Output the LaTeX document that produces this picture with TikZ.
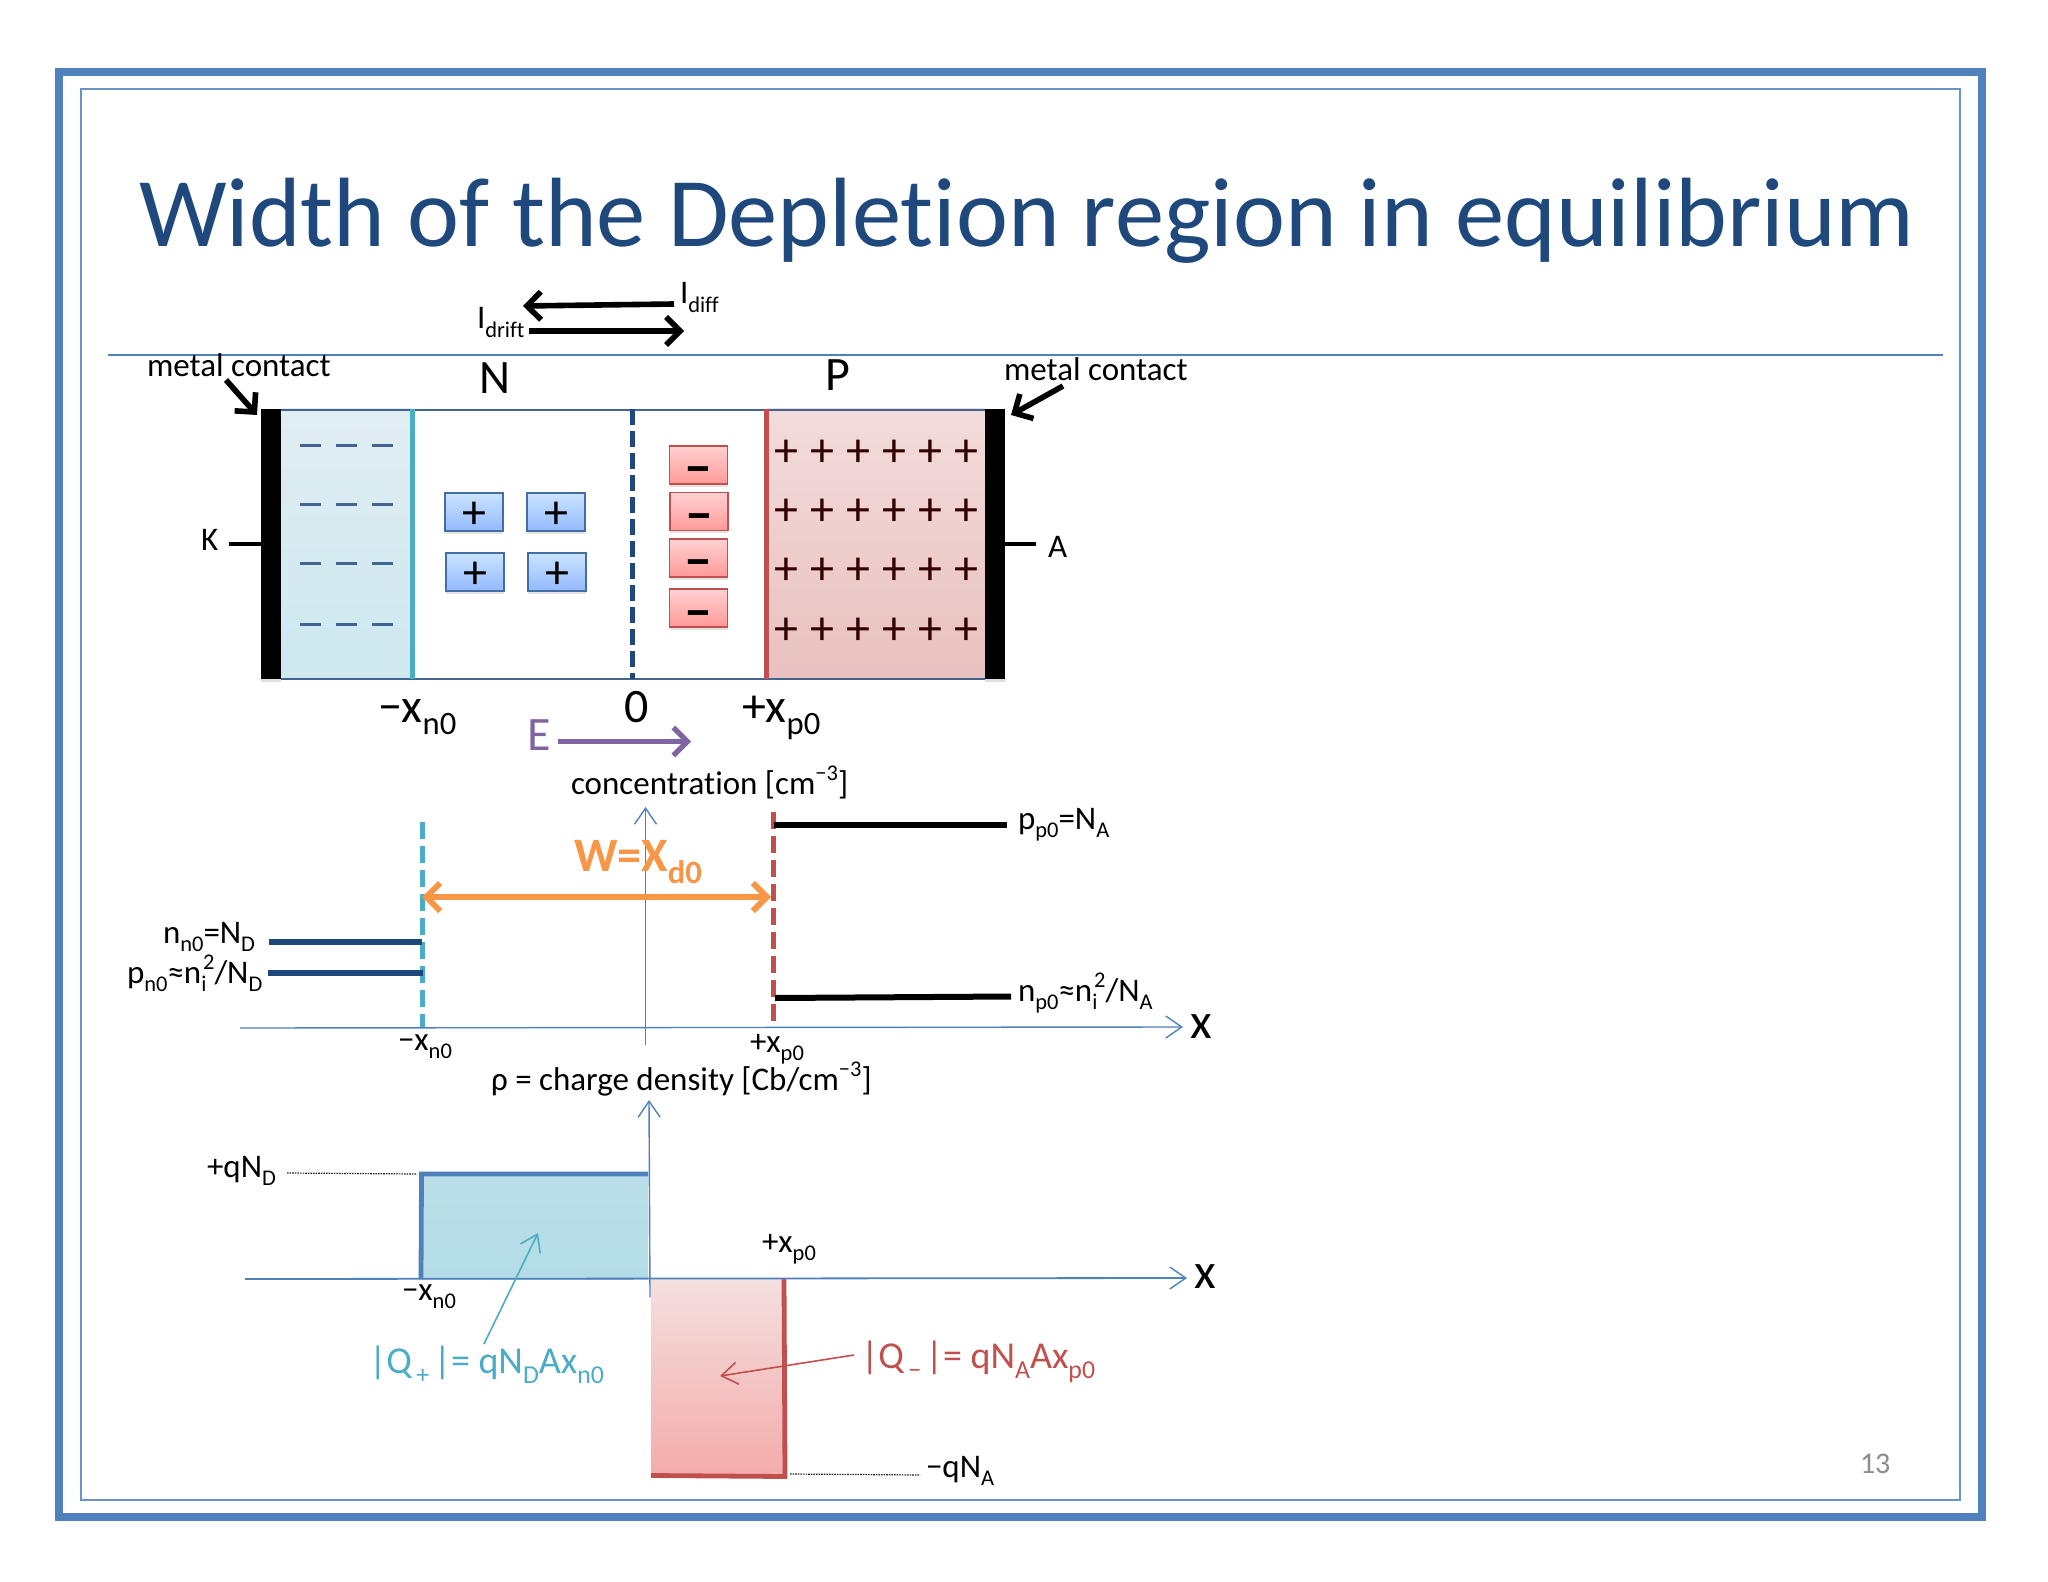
\documentclass[tikz,border=0pt]{standalone}
\usepackage{fontspec}
\usepackage{graphicx}
\setmainfont[Ligatures=CommonOff]{Carlito}
\usetikzlibrary{arrows.meta,shadows,calc}
\definecolor{framecol}{HTML}{4F81BD}
\definecolor{titlecol}{HTML}{1F497D}
\definecolor{tealc}{HTML}{4BACC6}
\definecolor{redc}{HTML}{C0504D}
\definecolor{orangec}{HTML}{F79646}
\definecolor{purplec}{HTML}{8064A2}
\definecolor{navyc}{HTML}{1F497D}
\newcommand\fs[1]{\fontsize{#1}{#1}\selectfont}
\newcommand\dn[1]{\raisebox{-.27em}{\scalebox{.68}{#1}}}
\newcommand\upp[1]{\raisebox{.42em}{\scalebox{.68}{#1}}}
\newcommand\boxplus{\raisebox{-8.5pt}[0pt][0pt]{+}}
\newcommand\boxminus{\raisebox{-10.5pt}[0pt][0pt]{−}}
\tikzset{
  lab/.style={anchor=base west,inner sep=0pt,outer sep=0pt,text=black},
  softshadow/.style={drop shadow={shadow xshift=0pt,shadow yshift=-1.5pt,opacity=.22}},
  plusbox/.style={draw=framecol!85!black,line width=.8pt,top color=blue!12!white!90!cyan,bottom color=blue!32!white!85!cyan,minimum width=29pt,minimum height=19pt,inner sep=0pt,softshadow,font=\fs{24}},
  minusbox/.style={draw=redc,line width=.8pt,top color=red!18!white,bottom color=red!40!white,minimum width=29pt,minimum height=19pt,inner sep=0pt,softshadow,font=\bfseries\fs{26}},
  pmark/.style={inner sep=0pt,font=\fs{24},text=black!80!red},
  thickarrow/.style={line width=2.8pt,-{Straight Barb[length=7pt,width=14pt,line width=2.8pt]}},
  thinaxis/.style={draw=framecol,line width=.7pt,-{Straight Barb[length=8pt,width=11pt,line width=.7pt]}},
  dotline/.style={draw=black!85,line width=.6pt,dash pattern=on .8pt off .5pt},
  level/.style={line width=3pt},
}
\begin{document}
\begin{tikzpicture}[x=0.5pt,y=-0.5pt]
\useasboundingbox (0,0) rectangle (2048,1582);
\fill[white] (0,0) rectangle (2048,1582);
% frames
\draw[framecol,line width=4pt] (59,72) rectangle (1982,1517);
\draw[framecol!85!white,line width=.6pt] (81,89) rectangle (1960,1500);
\draw[framecol,line width=.7pt] (108,355) -- (1943,355);
\node[lab,text=titlecol] (title) at (139,247) {\fs{49.25}Width of the Depletion region in equilibrium};
\node[lab,text=black!45] (pagenum) at (1860,1473) {\fs{15}13};

% device
\shade[top color=cyan!5!blue!2!white!90!teal,bottom color=tealc!28!white] (281,409) rectangle (411,679);
\shade[top color=redc!20!white,bottom color=redc!36!white] (766,409) rectangle (985,679);
\draw[navyc!85!white,line width=.9pt] (281,410) -- (985,410) (281,679) -- (985,679);
\draw[tealc,line width=2.5pt] (412,409) -- (412,679);
\draw[navyc,line width=2.5pt,dash pattern=on 8pt off 3pt] (632.5,409) -- (632.5,679);
\draw[redc,line width=2.5pt] (766.5,409) -- (766.5,679);
\fill[black,drop shadow={shadow xshift=0pt,shadow yshift=-1.5pt,opacity=.25}] (261,409) rectangle (281,679);
\fill[black,drop shadow={shadow xshift=0pt,shadow yshift=-1.5pt,opacity=.25}] (985,409) rectangle (1005,679);
\foreach \yy in {446,505,564,624}{
  \foreach \xx in {300,336,372}{
    \draw[navyc!85!white,line width=1.5pt] (\xx,\yy) -- ++(21,0);
  }
}
\foreach \yy [count=\r] in {453,512,571,631}{
  \foreach \xx [count=\c] in {786,822,858,894,930,966}{
    \node[pmark] (pl\r\c) at (\xx,\yy) {+};
  }
}
\node[plusbox] (pb1) at (474,512) {\boxplus};
\node[plusbox] (pb2) at (556,512) {\boxplus};
\node[plusbox] (pb3) at (475,572) {\boxplus};
\node[plusbox] (pb4) at (557,572) {\boxplus};
\node[minusbox] (mb1) at (698.5,465) {\boxminus};
\node[minusbox] (mb2) at (699,511.5) {\boxminus};
\node[minusbox] (mb3) at (698.5,558) {\boxminus};
\node[minusbox] (mb4) at (698.5,608) {\boxminus};

% contacts and labels
\node[lab] (mcl) at (147,377) {\fs{16.5}metal contact};
\node[lab] (mcr) at (1004,381) {\fs{16.5}metal contact};
\coordinate (mclS) at (226,380); \coordinate (mclE) at (257,415);
\coordinate (mcrS) at (1063,386); \coordinate (mcrE) at (1011,415);
\draw[thickarrow] (mclS) -- (mclE);
\draw[thickarrow] (mcrS) -- (mcrE);
\node[lab] (K) at (201,551) {\fs{16.5}K};
\node[lab] (A) at (1048,558) {\fs{16.5}A};
\coordinate (Kc) at (261,544); \coordinate (Ks) at (229,544);
\coordinate (Ac) at (1005,544); \coordinate (As) at (1036,544);
\draw[line width=2.2pt] (Ks) -- (Kc);
\draw[line width=2.2pt] (Ac) -- (As);
\node[lab] (N) at (479,394) {\fs{24}N};
\node[lab] (P) at (825,391) {\fs{24}P};
\node[lab] (mxn) at (378,722) {\fs{24}−x\dn{n0}};
\node[lab] (zero) at (624,722) {\fs{24}0};
\node[lab] (pxp) at (742,722) {\fs{24}+x\dn{p0}};
\node[lab,text=purplec] (E) at (527,750) {\fs{24}E};
\coordinate (Es) at (558,741.5); \coordinate (Ee) at (691,741.5);
\draw[purplec,line width=2.6pt,-{Straight Barb[length=7pt,width=14pt,line width=2.6pt]}] (Es) -- (Ee);

% currents
\node[lab] (Idrift) at (477,329) {\fs{16.5}I\dn{drift}};
\node[lab] (Idiff) at (680,304) {\fs{16.5}I\dn{diff}};
\coordinate (dfS) at (674,304); \coordinate (dfE) at (523,306);
\coordinate (drS) at (529,331); \coordinate (drE) at (684,331);
\draw[thickarrow] (dfS) -- (dfE);
\draw[thickarrow] (drS) -- (drE);

% concentration plot
\node[lab] (conc) at (571,794) {\fs{16.5}concentration [cm\upp{−3}]};
\coordinate (ax1b) at (645.5,1045); \coordinate (ax1t) at (645.5,807);
\coordinate (ax2l) at (240,1028); \coordinate (ax2r) at (1183,1027);
\draw[tealc,line width=2.5pt,dash pattern=on 8.5pt off 3.5pt] (422,822) -- (422,1028);
\draw[redc,line width=2.5pt,dash pattern=on 8.5pt off 3.5pt] (773,812) -- (773,1026);
\draw[thinaxis] (ax1b) -- (ax1t);
\draw[thinaxis] (ax2l) -- (ax2r);
\node[lab] (x1) at (1190,1038) {\fs{25}x};
\node[lab,text=orangec] (W) at (574,871) {\fs{24}\bfseries W=X\dn{d0}};
\coordinate (wL) at (422,897); \coordinate (wR) at (771,897);
\draw[orangec,line width=3pt,{Straight Barb[length=7pt,width=14pt,line width=3pt]}-{Straight Barb[length=7pt,width=14pt,line width=3pt]}] (wL) -- (wR);
\draw[navyc,level] (269,942) -- (422,942);
\draw[navyc,level] (268,973) -- (423,973);
\draw[black,level] (774,824.5) -- (1007,824.5);
\draw[black,level] (775,998) -- (1011,996.5);
\node[lab] (nn0) at (163,943) {\fs{16.5}n\dn{n0}=N\dn{D}};
\node[lab] (pn0) at (127,983) {\fs{16.5}p\dn{n0}≈n\dn{i}\kern-.1em\upp{2}/N\dn{D}};
\node[lab] (pp0) at (1018,829) {\fs{16.5}p\dn{p0}=N\dn{A}};
\node[lab] (np0) at (1018,1001) {\fs{16.5}n\dn{p0}≈n\dn{i}\kern-.1em\upp{2}/N\dn{A}};
\node[lab] (mxn2) at (398,1050) {\fs{16.5}−x\dn{n0}};
\node[lab] (pxp2) at (750,1052) {\fs{16.5}+x\dn{p0}};

% charge density plot
\node[lab] (rho) at (491,1090) {\fs{16.5}ρ = charge density [Cb/cm\upp{−3}]};
\shade[top color=tealc!38!white,bottom color=tealc!42!white] (421,1173) rectangle (648,1279);
\shade[top color=redc!18!white,bottom color=red!55!redc!38!white] (651,1279) rectangle (784,1475);
\draw[framecol,line width=2.4pt] (421,1279) -- (421.5,1174) -- (648,1174);
\draw[redc,line width=2.4pt] (651,1475.5) -- (785,1476.5) -- (784,1279);
\coordinate (ax3b) at (650,1297); \coordinate (ax3t) at (649,1100);
\coordinate (ax4l) at (245,1279); \coordinate (ax4r) at (1187,1278);
\draw[thinaxis] (ax3b) -- (ax3t);
\draw[thinaxis,line width=.9pt] (ax4l) -- (ax4r);
\node[lab] (x2) at (1194,1288) {\fs{25}x};
\node[lab] (qnd) at (207,1177) {\fs{16.5}+qN\dn{D}};
\node[lab] (qna) at (926,1477) {\fs{16.5}−qN\dn{A}};
\coordinate (d1a) at (287,1173); \coordinate (d1b) at (417,1174);
\coordinate (d2a) at (790,1474); \coordinate (d2b) at (920,1475);
\draw[dotline] (d1a) -- (d1b);
\draw[dotline] (d2a) -- (d2b);
\node[lab] (mxn3) at (402,1300) {\fs{16.5}−x\dn{n0}};
\node[lab] (pxp3) at (762,1252) {\fs{16.5}+x\dn{p0}};
\node[lab,text=tealc] (Qp) at (369,1373) {\fs{19}|Q\dn{\,+\,}|= qN\dn{D}Ax\dn{n0}};
\node[lab,text=redc] (Qm) at (861,1368) {\fs{19}|Q\dn{\,−\,}|= qN\dn{A}Ax\dn{p0}};
\coordinate (qpS) at (484,1344); \coordinate (qpE) at (538,1233);
\coordinate (qmS) at (854,1355); \coordinate (qmE) at (720,1376);
\draw[tealc,line width=.8pt,-{Straight Barb[length=8pt,width=11pt,line width=.8pt]}] (qpS) -- (qpE);
\draw[redc,line width=.8pt,-{Straight Barb[length=8pt,width=11pt,line width=.8pt]}] (qmS) -- (qmE);
\end{tikzpicture}
\end{document}
